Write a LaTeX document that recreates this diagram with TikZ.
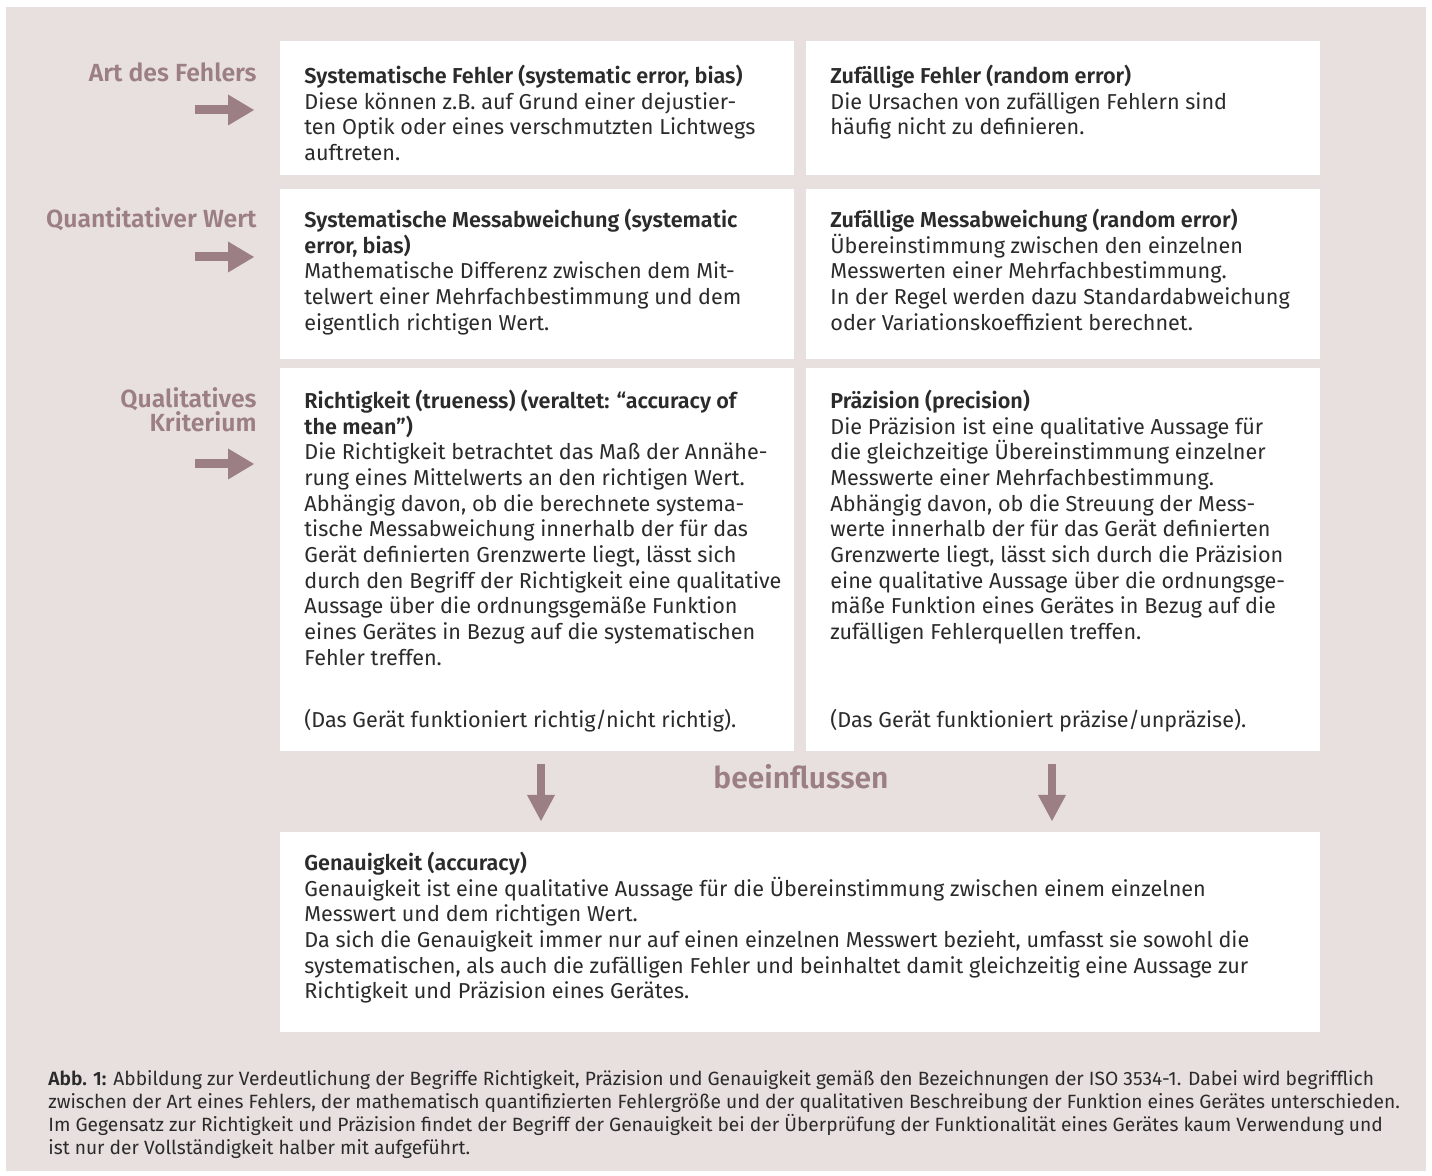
\documentclass[tikz,border=0pt]{standalone}
\usepackage{fontspec}
\setmainfont{Fira Sans}[BoldFont={Fira Sans SemiBold}]
\usetikzlibrary{arrows.meta}
\definecolor{bgc}{HTML}{E8E0DF}
\definecolor{mauve}{HTML}{9B7F84}
\definecolor{ink}{HTML}{2B2B2B}
\newcommand{\fl}{\rule{0pt}{10pt}}
\begin{document}
\begin{tikzpicture}[x=0.5pt,y=-0.5pt,
  panel/.style={fill=bgc,draw=none},
  whitebox/.style={fill=white,draw=none,inner sep=0pt,anchor=north west},
  txt/.style={anchor=north west,inner sep=0pt,align=left,text=ink,
    font=\fontsize{10.8pt}{12.85pt}\selectfont},
  captxt/.style={anchor=north west,inner sep=0pt,align=left,text=ink,
    font=\fontsize{9.6pt}{11.5pt}\selectfont},
  lab/.style={inner sep=0pt,text=mauve,font=\fontsize{12.4pt}{12pt}\selectfont\bfseries},
  rarr/.style={draw=mauve,line width=4.5pt,
    -{Triangle[length=13pt,width=15.5pt,line width=0pt]}},
  darr/.style={draw=mauve,line width=4pt,
    -{Triangle[length=13pt,width=14pt,line width=0pt]}}
]
\useasboundingbox (0,0) rectangle (1432,1176);
\fill[panel] (6,7) rectangle (1426,1171);

% boxes
\node[whitebox,minimum width=257pt,minimum height=67pt] (b11) at (280,41) {};
\node[whitebox,minimum width=257pt,minimum height=67pt] (b12) at (806,41) {};
\node[whitebox,minimum width=257pt,minimum height=85pt] (b21) at (280,189) {};
\node[whitebox,minimum width=257pt,minimum height=85pt] (b22) at (806,189) {};
\node[whitebox,minimum width=257pt,minimum height=191.5pt] (b31) at (280,368) {};
\node[whitebox,minimum width=257pt,minimum height=191.5pt] (b32) at (806,368) {};
\node[whitebox,minimum width=520pt,minimum height=100pt] (b4) at (280,832) {};

% row labels
\node[lab,anchor=base east] (l1) at (257,82) {Art des Fehlers};
\node[lab,anchor=base east] (l2) at (257,228) {Quantitativer Wert};
\node[lab,anchor=north east,align=right] (l3) at (257,385) {\rule{0pt}{11pt}Qualitatives\\Kriterium};

% right arrows
\coordinate (a1s) at (195,110); \coordinate (a1e) at (254,110);
\coordinate (a2s) at (195,257); \coordinate (a2e) at (254,257);
\coordinate (a3s) at (195,464); \coordinate (a3e) at (254,464);
\draw[rarr] (a1s) -- (a1e);
\draw[rarr] (a2s) -- (a2e);
\draw[rarr] (a3s) -- (a3e);

% texts
\node[txt] (t11) at (304,63) {\fl\textbf{Systematische Fehler (systematic error, bias)}\\
Diese können z.B. auf Grund einer dejustier-\\
ten Optik oder eines verschmutzten Lichtwegs\\
auftreten.};
\node[txt] (t12) at (830,63) {\fl\textbf{Zufällige Fehler (random error)}\\
Die Ursachen von zufälligen Fehlern sind\\
häufig nicht zu definieren.};
\node[txt] (t21) at (304,207) {\fl\textbf{Systematische Messabweichung (systematic}\\
\textbf{error, bias)}\\
Mathematische Differenz zwischen dem Mit-\\
telwert einer Mehrfachbestimmung und dem\\
eigentlich richtigen Wert.};
\node[txt] (t22) at (830,207) {\fl\textbf{Zufällige Messabweichung (random error)}\\
Übereinstimmung zwischen den einzelnen\\
Messwerten einer Mehrfachbestimmung.\\
In der Regel werden dazu Standardabweichung\\
oder Variationskoeffizient berechnet.};
\node[txt] (t31) at (304,388) {\fl\textbf{Richtigkeit (trueness) (veraltet: “accuracy of}\\
\textbf{the mean”)}\\
Die Richtigkeit betrachtet das Maß der Annähe-\\
rung eines Mittelwerts an den richtigen Wert.\\
Abhängig davon, ob die berechnete systema-\\
tische Messabweichung innerhalb der für das\\
Gerät definierten Grenzwerte liegt, lässt sich\\
durch den Begriff der Richtigkeit eine qualitative\\
Aussage über die ordnungsgemäße Funktion\\
eines Gerätes in Bezug auf die systematischen\\
Fehler treffen.};
\node[txt] (t31b) at (304,707) {\fl(Das Gerät funktioniert richtig/nicht richtig).};
\node[txt] (t32) at (830,388) {\fl\textbf{Präzision (precision)}\\
Die Präzision ist eine qualitative Aussage für\\
die gleichzeitige Übereinstimmung einzelner\\
Messwerte einer Mehrfachbestimmung.\\
Abhängig davon, ob die Streuung der Mess-\\
werte innerhalb der für das Gerät definierten\\
Grenzwerte liegt, lässt sich durch die Präzision\\
eine qualitative Aussage über die ordnungsge-\\
mäße Funktion eines Gerätes in Bezug auf die\\
zufälligen Fehlerquellen treffen.};
\node[txt] (t32b) at (830,707) {\fl(Das Gerät funktioniert präzise/unpräzise).};
\node[txt] (t4) at (304,850) {\fl\textbf{Genauigkeit (accuracy)}\\
Genauigkeit ist eine qualitative Aussage für die Übereinstimmung zwischen einem einzelnen\\
Messwert und dem richtigen Wert.\\
Da sich die Genauigkeit immer nur auf einen einzelnen Messwert bezieht, umfasst sie sowohl die\\
systematischen, als auch die zufälligen Fehler und beinhaltet damit gleichzeitig eine Aussage zur\\
Richtigkeit und Präzision eines Gerätes.};

% influence
\node[inner sep=0pt,anchor=base,text=mauve,font=\fontsize{15pt}{15pt}\selectfont\bfseries] (inf) at (801,789) {beeinflussen};
\coordinate (d1s) at (541,764); \coordinate (d1e) at (541,821);
\coordinate (d2s) at (1052,764); \coordinate (d2e) at (1052,821);
\draw[darr] (d1s) -- (d1e);
\draw[darr] (d2s) -- (d2e);

% caption
\node[captxt] (cap) at (48,1065) {\fl\textbf{Abb. 1:} Abbildung zur Verdeutlichung der Begriffe Richtigkeit, Präzision und Genauigkeit gemäß den Bezeichnungen der ISO 3534-1. Dabei wird begrifflich\\
zwischen der Art eines Fehlers, der mathematisch quantifizierten Fehlergröße und der qualitativen Beschreibung der Funktion eines Gerätes unterschieden.\\
Im Gegensatz zur Richtigkeit und Präzision findet der Begriff der Genauigkeit bei der Überprüfung der Funktionalität eines Gerätes kaum Verwendung und\\
ist nur der Vollständigkeit halber mit aufgeführt.};
\end{tikzpicture}
\end{document}
